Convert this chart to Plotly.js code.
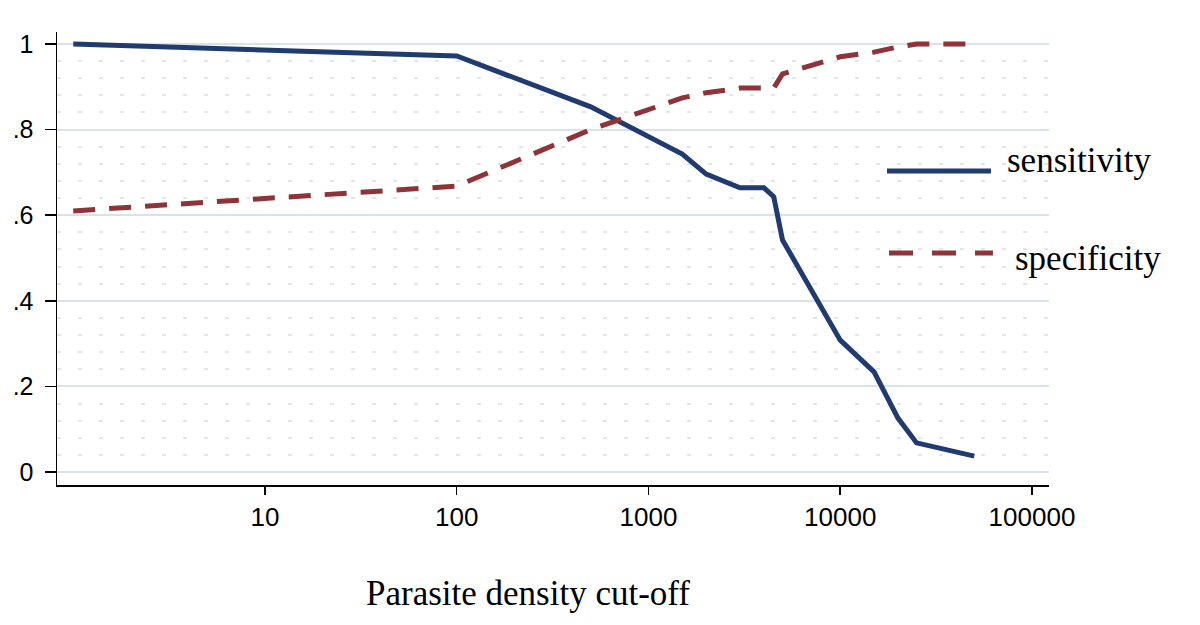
<!DOCTYPE html>
<html>
<head>
<meta charset="utf-8">
<script src="https://cdn.plot.ly/plotly-3.0.1.min.js"></script>
<style>html,body{margin:0;padding:0;background:#fff;}#chart{width:1200px;height:625px;}</style>
</head>
<body>
<div id="chart"></div>
<script>
// Data
const sensCutoffs = [1, 100, 500, 1500, 2000, 3000, 4000, 4500, 5000, 10000, 15000, 20000, 25000, 50000];
const sensitivity = [1.0, 0.972, 0.853, 0.743, 0.696, 0.664, 0.664, 0.643, 0.542, 0.308, 0.234, 0.126, 0.068, 0.037];
const specCutoffs = [1, 100, 500, 1500, 2000, 3000, 4500, 5000, 10000, 15000, 20000, 25000, 50000];
const specificity = [0.61, 0.668, 0.80, 0.874, 0.886, 0.897, 0.897, 0.93, 0.97, 0.981, 0.993, 1.0, 1.0];
const xTickVals = [10, 100, 1000, 10000, 100000];
const xTickText = ["10", "100", "1000", "10000", "100000"];
const yTickVals = [0, 0.2, 0.4, 0.6, 0.8, 1];
const yTickText = ["0", ".2", ".4", ".6", ".8", "1"];
const seriesNames = ["sensitivity", "specificity"];

const navy = "#1f3b6f";
const maroon = "#8e3337";

const traces = [
  {x: sensCutoffs, y: sensitivity, type: "scatter", mode: "lines", name: seriesNames[0],
   line: {color: navy, width: 5, shape: "linear"}},
  {x: specCutoffs, y: specificity, type: "scatter", mode: "lines", name: seriesNames[1],
   line: {color: maroon, width: 5, dash: "22px,14px"}}
];

const layout = {
  width: 1200, height: 625,
  margin: {l: 57, r: 151, t: 32, b: 140},
  paper_bgcolor: "#ffffff", plot_bgcolor: "#ffffff",
  showlegend: false,
  font: {family: "Liberation Sans, Arial, sans-serif", color: "#000"},
  xaxis: {
    type: "log", range: [-0.0847, 5.0887],
    tickmode: "array", tickvals: xTickVals, ticktext: xTickText,
    ticks: "outside", ticklen: 8, tickwidth: 1.5, tickcolor: "#000",
    showline: true, linecolor: "#000", linewidth: 1.5, mirror: false,
    showgrid: false, zeroline: false,
    tickfont: {size: 26, family: "Liberation Sans, Arial, sans-serif", color: "#000"}
  },
  yaxis: {
    range: [-0.0304, 1.028],
    tickmode: "array", tickvals: yTickVals, ticktext: yTickText,
    ticks: "outside", ticklen: 11, tickwidth: 1.5, tickcolor: "#000",
    ticklabelstandoff: 6,
    showline: true, linecolor: "#000", linewidth: 1.5, mirror: false,
    showgrid: true, gridcolor: "#dbe1ec", gridwidth: 2, zeroline: false,
    tickfont: {size: 25, family: "Liberation Sans, Arial, sans-serif", color: "#000"},
    minor: {dtick: 0.04, showgrid: true, gridcolor: "#e0e5ee", gridwidth: 2, griddash: "4px,17px", ticks: ""}
  },
  shapes: [
    {type: "line", xref: "paper", yref: "paper", x0: 0.8367, x1: 0.9415, y0: 0.6932, y1: 0.6932,
     line: {color: navy, width: 5}},
    {type: "line", xref: "paper", yref: "paper", x0: 0.8387, x1: 0.9435, y0: 0.5121, y1: 0.5121,
     line: {color: maroon, width: 5, dash: "24px,19px"}}
  ],
  annotations: [
    {xref: "paper", yref: "paper", x: 0.9556, y: 0.7174, xanchor: "left", yanchor: "middle",
     text: seriesNames[0], showarrow: false,
     font: {family: "Liberation Serif, Times New Roman, serif", size: 35, color: "#000"}},
    {xref: "paper", yref: "paper", x: 0.9637, y: 0.4989, xanchor: "left", yanchor: "middle",
     text: seriesNames[1], showarrow: false,
     font: {family: "Liberation Serif, Times New Roman, serif", size: 35, color: "#000"}},
    {xref: "paper", yref: "paper", x: (528 - 57) / 992, y: (485 - 593) / 453, xanchor: "center", yanchor: "middle",
     text: "Parasite density cut-off", showarrow: false,
     font: {family: "Liberation Serif, Times New Roman, serif", size: 35, color: "#000"}}
  ]
};

Plotly.newPlot("chart", traces, layout, {displayModeBar: false, staticPlot: true});
</script>
</body>
</html>
